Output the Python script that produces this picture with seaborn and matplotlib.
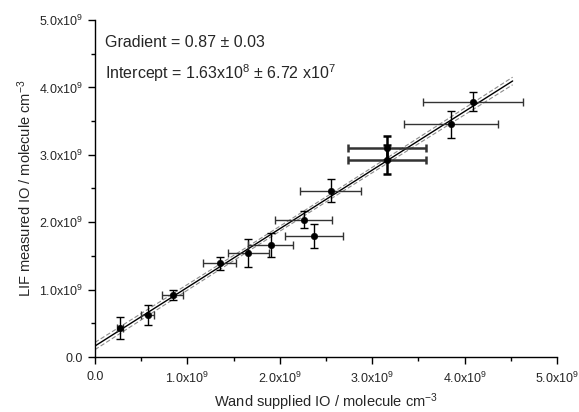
import numpy as np
import pandas as pd
import matplotlib
matplotlib.use("Agg")
import matplotlib.pyplot as plt
import seaborn as sns

# Datos (unidades de 1e9 molecule cm-3)
wand = [0.27, 0.57, 0.84, 1.35, 1.66, 1.90, 2.26, 2.37, 2.55, 3.16, 3.16, 3.85, 4.09]
lif = [0.43, 0.62, 0.92, 1.39, 1.54, 1.66, 2.04, 1.79, 2.47, 3.10, 2.93, 3.45, 3.79]
wand_err = [0.03, 0.07, 0.11, 0.18, 0.22, 0.24, 0.31, 0.31, 0.33, 0.42, 0.42, 0.51, 0.54]
lif_err = [0.16, 0.15, 0.08, 0.10, 0.21, 0.18, 0.13, 0.18, 0.17, 0.18, 0.22, 0.20, 0.14]
thick = [False] * 9 + [True, True] + [False, False]

# Parámetros del ajuste
gradient = 0.87
gradient_err = 0.03
intercept = 0.163
intercept_err = 0.0672
fit_x_max = 4.52

escala = 1e9

sns.set_style("ticks")
plt.rcParams["font.family"] = ["Liberation Sans", "DejaVu Sans"]
plt.rcParams["mathtext.fontset"] = "custom"
plt.rcParams["mathtext.rm"] = "Liberation Sans"
plt.rcParams["mathtext.it"] = "Liberation Sans:italic"

fig = plt.figure(figsize=(5.79, 4.12), dpi=100)
ax = fig.add_axes([95 / 579, 1 - 357 / 412, (557 - 95) / 579, (357 - 20) / 412])

df = pd.DataFrame({"wand": np.array(wand) * escala, "lif": np.array(lif) * escala})

# Recta de ajuste y banda de confianza
xf = np.linspace(0, fit_x_max, 100) * escala
yf = gradient * xf + intercept * escala
xm = np.mean(wand)
half = np.sqrt((intercept_err * 0.55) ** 2 + ((xf / escala - xm) * gradient_err * 0.6) ** 2) * escala
sns.lineplot(x=xf, y=yf, color="black", lw=1.0, ax=ax, zorder=3)
sns.lineplot(x=xf, y=yf + half, color="#8c8c8c", lw=0.8, ls=(0, (4, 2)), ax=ax, zorder=2)
sns.lineplot(x=xf, y=yf - half, color="#8c8c8c", lw=0.8, ls=(0, (4, 2)), ax=ax, zorder=2)

# Barras de error
for i in range(len(wand)):
    lw = 1.8 if thick[i] else 1.0
    ax.errorbar(wand[i] * escala, lif[i] * escala, xerr=wand_err[i] * escala,
                fmt="none", ecolor="#333333", elinewidth=lw, capsize=3, capthick=lw, zorder=4)
    ax.errorbar(wand[i] * escala, lif[i] * escala, yerr=lif_err[i] * escala,
                fmt="none", ecolor="black", elinewidth=lw, capsize=3, capthick=lw, zorder=4)

sns.scatterplot(data=df, x="wand", y="lif", color="black", s=22, edgecolor="black", ax=ax, zorder=5)

ax.set_xlim(0, 5.0e9)
ax.set_ylim(0, 5.0e9)
ticks = [0, 1e9, 2e9, 3e9, 4e9, 5e9]
labels = ["0.0"] + [r"%.1fx10$^{9}$" % (t / 1e9) for t in ticks[1:]]
ax.set_xticks(ticks)
ax.set_xticklabels(labels)
ax.set_yticks(ticks)
ax.set_yticklabels(labels)
ax.set_xticks(np.arange(0.5e9, 5e9, 1e9), minor=True)
ax.set_yticks(np.arange(0.5e9, 5e9, 1e9), minor=True)
ax.tick_params(which="major", direction="out", length=5, width=1, labelsize=9, color="black")
ax.tick_params(which="minor", direction="out", length=3, width=1, color="black")
ax.tick_params(axis="x", pad=5)

for s in ["left", "bottom"]:
    ax.spines[s].set_color("black")
    ax.spines[s].set_linewidth(1)
sns.despine(ax=ax)

ax.set_xlabel(r"Wand supplied IO / molecule cm$^{-3}$", fontsize=10.5, labelpad=4)
ax.set_ylabel(r"LIF measured IO / molecule cm$^{-3}$", fontsize=10.5, labelpad=4)

ax.text(0.022, 0.932, "Gradient = 0.87 ± 0.03", transform=ax.transAxes, fontsize=11.5, va="center")
ax.text(0.022, 0.842, r"Intercept = 1.63x10$^{8}$ ± 6.72 x10$^{7}$", transform=ax.transAxes,
        fontsize=11.5, va="center")

fig.savefig("out.png", dpi=100)
